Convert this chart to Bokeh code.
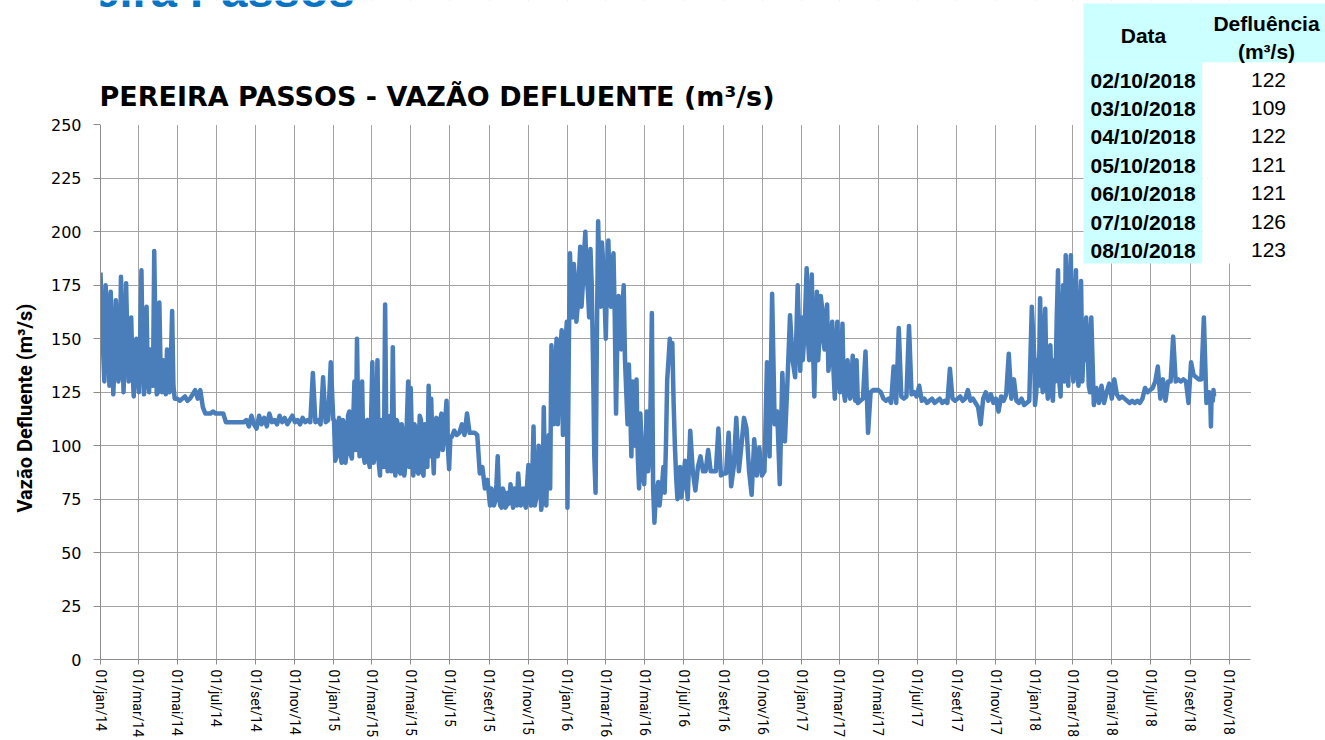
import pandas as pd
from bokeh.plotting import figure
from bokeh.models import Range1d, FixedTicker, Label, BoxAnnotation, ColumnDataSource, Title
from bokeh.embed import file_html
from bokeh.resources import INLINE

# ---------------- data (m3/s) ----------------
# samples every 4 days from 1 January of each year
vazao_2014 = [181, 145, 175, 142, 172, 124, 168, 130,
              179, 125, 176, 130, 160, 123, 150,
              125, 182, 124, 165, 125, 130, 191, 124,
              167, 125, 130, 145, 125, 163, 122,
              122, 121, 122, 123, 121, 122, 124, 126,
              122, 126, 118, 115, 115, 115, 116, 115,
              115, 115, 115, 111, 111, 111, 111, 111,
              111, 111, 111, 112, 109, 114, 110, 108,
              114, 110, 113, 109, 115, 111, 112,
              110, 114, 111, 113, 110, 112, 114, 111,
              112, 110, 113, 111, 112, 111, 134,
              111, 112, 110, 132, 111, 112, 139, 112]
vazao_2015 = [112, 95, 113, 92, 110, 97, 116, 94,
              130, 150, 95, 130, 92, 112, 90,
              139, 95, 140, 86, 110, 166, 88, 114,
              146, 86, 110, 87, 105, 92, 130,
              127, 86, 108, 87, 112, 86, 105, 128,
              122, 87, 113, 100, 115, 104, 121, 89,
              104, 107, 105, 106, 110, 105, 115, 106,
              106, 106, 105, 87, 90, 80, 84, 72,
              78, 74, 95, 72, 80, 71, 78,
              82, 71, 79, 87, 72, 80, 71, 91,
              72, 109, 75, 100, 70, 118, 72,
              105, 147, 110, 150, 125, 154, 130, 158]
vazao_2016 = [71, 190, 160, 176, 165, 193, 175, 200,
              172, 192, 140, 78, 205, 165, 185,
              150, 196, 165, 190, 115, 170, 145, 175,
              125, 138, 95, 120, 131, 80, 100,
              82, 116, 95, 162, 64, 80, 72, 82,
              78, 131, 150, 148, 100, 75, 90, 80,
              93, 75, 107, 88, 79, 90, 95, 88,
              88, 98, 88, 88, 88, 108, 86, 87,
              87, 106, 81, 90, 113, 88, 100,
              113, 108, 88, 77, 103, 86, 99, 86,
              88, 139, 95, 171, 110, 116, 82,
              134, 102, 130, 161, 140, 132, 175, 135]
vazao_2017 = [160, 150, 183, 140, 180, 123, 172, 150,
              165, 145, 166, 140, 158, 122, 158,
              125, 157, 121, 140, 122, 142, 121, 120,
              121, 122, 144, 106, 125, 126, 126,
              126, 125, 122, 121, 122, 120, 137, 120,
              155, 123, 122, 123, 156, 124, 125, 123,
              128, 121, 122, 120, 121, 122, 120, 121,
              122, 120, 121, 120, 136, 122, 121, 122,
              123, 121, 122, 126, 121, 122, 120,
              118, 110, 122, 125, 121, 124, 120, 122,
              116, 123, 121, 124, 143, 122, 131,
              121, 120, 122, 119, 120, 121, 165, 141]
vazao_2018 = [119, 140, 169, 125, 164, 122, 147, 121,
              130, 182, 123, 175, 189, 128, 189,
              130, 182, 128, 177, 145, 160, 128, 160,
              119, 127, 120, 128, 120, 125, 129,
              122, 131, 124, 122, 123, 122, 121, 120,
              121, 120, 121, 120, 122, 127, 125, 126,
              127, 130, 137, 122, 131, 121, 130, 130,
              151, 130, 131, 130, 131, 130, 120, 139,
              133, 132, 131, 131, 160, 120, 125]

# extra samples in the very oscillating periods (every 4 days, offset by 2 days)
meio_2014_ini, meio_2014 = "2014-01-03", [
    160, 130, 165, 128, 150, 140, 155, 135,
    150, 145, 150, 145, 135, 140, 135,
    150, 140, 150, 130, 145, 128, 150, 125,
    135, 140, 124, 130, 140, 128, 122]
meio_2015a_ini, meio_2015a = "2015-01-03", [
    93, 110, 96, 112, 92, 114, 96, 111,
    98, 110, 113, 96, 110, 93, 112,
    92, 113, 92, 112, 90, 100, 110, 88,
    100, 112, 88, 110, 86, 112, 90,
    100, 110, 88, 114, 88, 110, 90, 95,
    100, 110, 95, 112, 98, 112, 100, 104]
meio_2015b_ini, meio_2015b = "2015-09-04", [
    80, 72, 82, 76, 71, 78, 72, 73,
    76, 80, 72, 78, 74, 73, 82,
    75, 85, 72, 80, 88, 75, 85,
    100, 80, 118, 135, 110, 145, 105, 148]
meio_2016_ini, meio_2016 = "2016-01-03", [
    140, 170, 185, 158, 180, 165, 190, 180,
    160, 175, 95, 150, 180, 195, 170,
    180, 170, 185, 160, 150, 160, 165, 140,
    110, 120, 130, 100, 95, 115, 85,
    100, 88, 120, 80, 75, 83, 78, 90,
    100, 140, 140, 120, 85, 82, 76, 88]
meio_2017_ini, meio_2017 = "2017-01-03", [
    140, 165, 150, 170, 145, 150, 140, 170,
    150, 160, 135, 150, 135, 145, 130,
    140, 125, 135, 125, 130, 125, 140]
meio_2018_ini, meio_2018 = "2018-01-03", [
    125, 128, 135, 150, 130, 140, 125, 140,
    160, 130, 160, 130, 150, 175, 140,
    165, 135, 160, 130, 140, 150, 125]

# last week (table)
tabela_datas = ["02/10/2018", "03/10/2018", "04/10/2018", "05/10/2018",
                "06/10/2018", "07/10/2018", "08/10/2018"]
tabela_vazao = [122, 109, 122, 121, 121, 126, 123]

# x tick labels (every two months)
meses_pt = ["jan", "mar", "mai", "jul", "set", "nov"]
tick_datas = pd.date_range("2014-01-01", "2018-11-01", freq="2MS")
tick_labels = ["01/%s/%s" % (meses_pt[(d.month - 1) // 2], str(d.year)[2:]) for d in tick_datas]
y_ticks = [0, 25, 50, 75, 100, 125, 150, 175, 200, 225, 250]

# ---------------- build series ----------------
segmentos = [("2014-01-01", vazao_2014), ("2015-01-01", vazao_2015), ("2016-01-01", vazao_2016),
             ("2017-01-01", vazao_2017), ("2018-01-01", vazao_2018),
             (meio_2014_ini, meio_2014), (meio_2015a_ini, meio_2015a), (meio_2015b_ini, meio_2015b),
             (meio_2016_ini, meio_2016), (meio_2017_ini, meio_2017), (meio_2018_ini, meio_2018)]
parts = [pd.DataFrame({"data": pd.date_range(ini, periods=len(vals), freq="4D"), "vazao": vals})
         for ini, vals in segmentos]
parts.append(pd.DataFrame({"data": pd.to_datetime(tabela_datas, format="%d/%m/%Y"),
                           "vazao": tabela_vazao}))
df = pd.concat(parts, ignore_index=True).sort_values("data").reset_index(drop=True)
src = ColumnDataSource(df)

W, H = 1325, 740
FL, FB = 99, 662              # frame left / axis baseline (canvas px)
AX_TOP, AX_RIGHT = 125, 1250  # where the plotted axes end
x_start = pd.Timestamp("2014-01-01")
x_axis_end = pd.Timestamp("2018-12-04")
days_axis = (x_axis_end - x_start).days
x_end = x_start + pd.Timedelta(days=days_axis * (W - FL) / (AX_RIGHT - FL))
y_end = 250 * FB / (FB - AX_TOP)

p = figure(width=W, height=H, x_axis_type="datetime", title=None,
           x_range=Range1d(x_start, x_end), y_range=Range1d(0, y_end),
           output_backend="svg", toolbar_location=None,
           min_border_left=FL, min_border_right=0, min_border_top=0,
           min_border_bottom=H - FB)
p.outline_line_color = None
p.background_fill_color = "white"
p.border_fill_color = "white"

tick_ms = [int(d.timestamp() * 1000) for d in tick_datas]
xt = FixedTicker(ticks=tick_ms)
p.xaxis.ticker = xt
p.xgrid.ticker = xt
p.xaxis.major_label_overrides = {ms: lab for ms, lab in zip(tick_ms, tick_labels)}
p.xaxis.bounds = (int(x_start.timestamp() * 1000), int(x_axis_end.timestamp() * 1000))
yt = FixedTicker(ticks=y_ticks)
p.yaxis.ticker = yt
p.ygrid.ticker = yt
p.yaxis.bounds = (0, 250)

grid_col = "#a3a3a3"
for g in (p.xgrid, p.ygrid):
    g.grid_line_color = grid_col
    g.grid_line_width = 1

for ax in (p.xaxis, p.yaxis):
    ax.axis_line_color = "#8c8c8c"
    ax.major_tick_line_color = "#8c8c8c"
    ax.minor_tick_line_color = None
    ax.major_tick_in = 0
    ax.major_label_text_color = "#000000"

p.xaxis.major_tick_out = 5
p.xaxis.major_label_standoff = 5
p.xaxis.major_label_orientation = "vertical"
p.xaxis.major_label_text_font = "Roboto"
p.xaxis.major_label_text_font_size = "14px"

p.yaxis.major_tick_out = 7
p.yaxis.major_label_standoff = 12
p.yaxis.major_label_text_font = "DejaVu Sans"
p.yaxis.major_label_text_font_size = "16px"

# y-axis title, placed like the reference
p.add_layout(Title(text="Vazão Defluente (m³/s)", align="left", offset=147, standoff=21,
                   text_font="Roboto", text_font_style="bold", text_font_size="20px",
                   text_color="#000000"), "left")

p.line(x="data", y="vazao", source=src, line_color="#4a7ebb", line_width=4.5,
       line_join="round")

def box(l, r, t, b, color):
    p.add_layout(BoxAnnotation(left=l, right=r, top=t, bottom=b,
                               left_units="canvas", right_units="canvas",
                               top_units="canvas", bottom_units="canvas",
                               fill_color=color, fill_alpha=1.0, line_color=None))

# blank the area outside the plotted axes
box(0, W, 0, AX_TOP - 0.5, "#ffffff")
box(AX_RIGHT + 0.5, W, 0, H, "#ffffff")

# page title (cut at top) and chart title
p.add_layout(Label(x=17, y=-10, x_units="canvas", y_units="canvas",
                   text="Pereira Passos", text_align="left", text_baseline="middle",
                   text_font="Liberation Sans", text_font_style="bold",
                   text_font_size="47px", text_color="#0a74c4"))
p.add_layout(Label(x=99, y=96, x_units="canvas", y_units="canvas",
                   text="PEREIRA PASSOS - VAZÃO DEFLUENTE (m³/s)",
                   text_align="left", text_baseline="middle",
                   text_font="DejaVu Sans", text_font_style="bold",
                   text_font_size="27px", text_color="#000000"))

# table
box(1083, W, 3, 62, "#ccffff")
box(1083, 1202, 62, 263, "#ccffff")
box(1202, W, 62, 263, "#ffffff")

def lab(x, y, t, align="center", bold=True, size="21px"):
    p.add_layout(Label(x=x, y=y, x_units="canvas", y_units="canvas", text=t,
                       text_align=align, text_baseline="middle",
                       text_font="Liberation Sans",
                       text_font_style="bold" if bold else "normal",
                       text_font_size=size, text_color="#000000"))

lab(1143, 34.5, "Data")
lab(1266, 22.5, "Defluência")
lab(1266, 51, "(m³/s)")
row_y = [79.5, 107.5, 135.5, 164.5, 192.5, 221.5, 249.5]
for yy, d, v in zip(row_y, tabela_datas, tabela_vazao):
    lab(1090, yy, d, align="left")
    lab(1268, yy, str(v), bold=False)

open("out.html", "w").write(file_html(p, INLINE))
